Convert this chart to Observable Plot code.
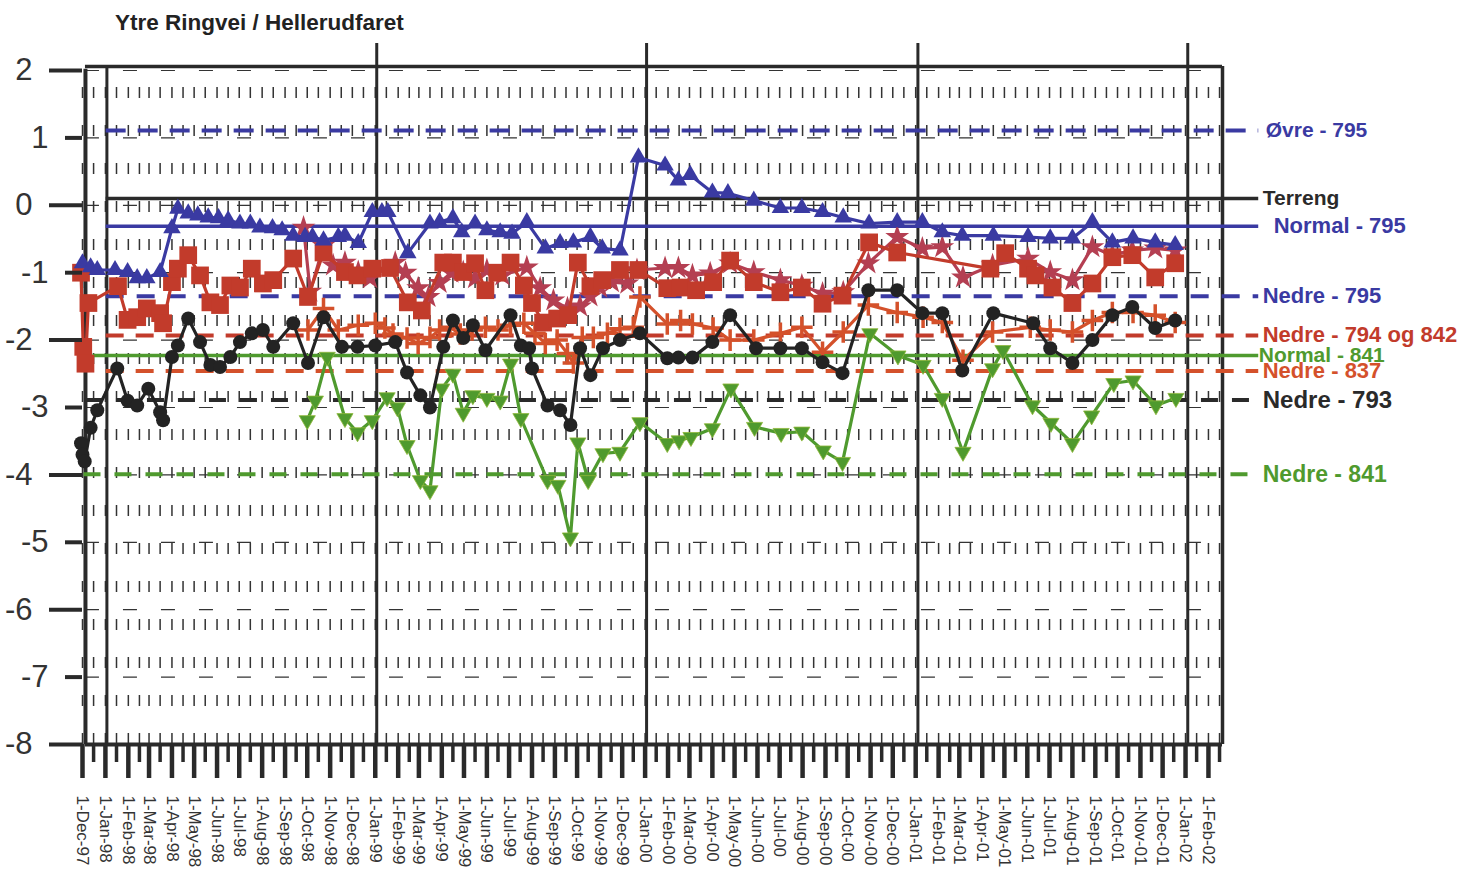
<!DOCTYPE html>
<html><head><meta charset="utf-8">
<script src="https://cdn.jsdelivr.net/npm/d3@7"></script>
<script src="https://cdn.jsdelivr.net/npm/@observablehq/plot@0.6"></script>
<style>
body{margin:0;background:#fff;}
#wrap{position:relative;width:1463px;height:869px;}
#title{position:absolute;left:115px;top:10px;font:bold 22.5px "Liberation Sans",Arial,sans-serif;color:#222;z-index:2;}
#chart{position:absolute;left:0;top:0;}
</style></head><body>
<div id="wrap"><div id="title">Ytre Ringvei / Hellerudfaret</div><div id="chart"></div></div>
<script>
// ---------- data ----------
const blueDates = ["1997-12-01","1997-12-12","1997-12-21","1998-01-14","1998-01-31","1998-02-13","1998-02-26","1998-03-16","1998-04-01","1998-04-09","1998-04-23","1998-05-06","1998-05-20","1998-06-03","1998-06-16","1998-07-02","1998-07-16","1998-07-29","1998-08-15","1998-08-28","1998-09-12","1998-09-28","1998-10-08","1998-10-23","1998-11-12","1998-11-21","1998-12-09","1998-12-28","1999-01-10","1999-01-18","1999-02-14","1999-03-16","1999-03-29","1999-04-16","1999-04-28","1999-05-16","1999-06-01","1999-06-19","1999-07-05","1999-07-25","1999-08-19","1999-09-08","1999-09-26","1999-10-19","1999-11-04","1999-11-28","1999-12-23","2000-01-28","2000-02-15","2000-03-02","2000-04-01","2000-04-22","2000-05-27","2000-07-02","2000-07-31","2000-08-28","2000-09-25","2000-10-30","2000-12-07","2001-01-10","2001-02-06","2001-03-05","2001-04-16","2001-06-02","2001-07-02","2001-08-01","2001-08-28","2001-09-24","2001-10-22","2001-11-21","2001-12-18"];
const blueValues = [-0.86,-0.92,-0.96,-0.96,-0.99,-1.08,-1.08,-0.99,-0.34,-0.05,-0.12,-0.15,-0.18,-0.19,-0.22,-0.27,-0.27,-0.33,-0.34,-0.37,-0.45,-0.47,-0.47,-0.52,-0.47,-0.45,-0.56,-0.1,-0.1,-0.1,-0.71,-0.27,-0.25,-0.19,-0.4,-0.27,-0.37,-0.4,-0.42,-0.25,-0.64,-0.56,-0.55,-0.47,-0.64,-0.67,0.71,0.59,0.37,0.45,0.19,0.18,0.07,-0.04,-0.04,-0.1,-0.18,-0.27,-0.25,-0.25,-0.4,-0.45,-0.45,-0.47,-0.49,-0.49,-0.25,-0.55,-0.49,-0.55,-0.59];

const squareDates = ["1997-11-29","1997-12-02","1997-12-05","1997-12-09","1998-01-18","1998-01-31","1998-02-13","1998-02-26","1998-03-16","1998-03-20","1998-04-01","1998-04-09","1998-04-23","1998-05-09","1998-05-23","1998-06-05","1998-06-19","1998-07-02","1998-07-18","1998-08-02","1998-08-16","1998-09-12","1998-10-02","1998-10-23","1998-11-21","1998-12-08","1998-12-28","1999-01-21","1999-02-14","1999-03-05","1999-04-03","1999-04-16","1999-04-30","1999-05-16","1999-05-30","1999-06-15","1999-07-03","1999-07-21","1999-08-01","1999-08-16","1999-09-04","1999-09-19","1999-10-02","1999-10-19","1999-11-04","1999-11-28","1999-12-23","2000-01-31","2000-02-18","2000-03-10","2000-04-02","2000-04-25","2000-05-27","2000-07-02","2000-07-31","2000-08-28","2000-09-24","2000-10-30","2000-12-07","2001-04-12","2001-05-02","2001-06-02","2001-06-12","2001-07-05","2001-08-01","2001-08-28","2001-09-24","2001-10-21","2001-11-21","2001-12-18"];
const squareValues = [-1.0,-2.1,-2.35,-1.45,-1.2,-1.7,-1.66,-1.53,-1.6,-1.75,-1.14,-0.94,-0.74,-1.04,-1.44,-1.48,-1.19,-1.22,-0.94,-1.16,-1.11,-0.79,-1.36,-0.7,-0.99,-1.04,-0.94,-0.93,-1.44,-1.56,-0.85,-0.85,-0.99,-0.86,-1.26,-1.0,-0.85,-1.19,-1.45,-1.74,-1.68,-1.63,-0.85,-1.2,-1.11,-0.96,-0.96,-1.23,-1.22,-1.26,-1.14,-0.82,-1.14,-1.29,-1.22,-1.46,-1.34,-0.55,-0.7,-0.94,-0.71,-0.94,-1.04,-1.22,-1.45,-1.16,-0.77,-0.74,-1.07,-0.86];

const starDates = ["1998-09-26","1998-10-05","1998-10-23","1998-11-05","1998-11-21","1998-12-09","1998-12-25","1999-01-28","1999-02-11","1999-02-28","1999-03-14","1999-03-29","1999-04-14","1999-04-30","1999-05-16","1999-06-01","1999-06-22","1999-07-25","1999-08-12","1999-08-30","1999-09-18","1999-10-05","1999-10-19","1999-11-01","1999-11-17","1999-12-08","1999-12-21","2000-01-28","2000-02-15","2000-03-05","2000-03-29","2000-04-25","2000-05-27","2000-07-02","2000-07-31","2000-08-28","2000-09-25","2000-10-29","2000-12-07","2001-01-10","2001-02-06","2001-03-06","2001-04-15","2001-06-02","2001-07-02","2001-08-01","2001-08-28","2001-09-24","2001-10-21","2001-11-21","2001-12-18"];
const starValues = [-0.33,-1.28,-0.6,-0.89,-0.85,-0.99,-1.08,-0.85,-1.0,-1.23,-1.36,-1.15,-1.0,-0.99,-1.08,-0.96,-1.04,-0.92,-1.23,-1.41,-1.53,-1.5,-1.35,-1.22,-1.14,-1.16,-0.96,-0.93,-0.93,-1.04,-1.01,-0.86,-0.99,-1.11,-1.19,-1.31,-1.29,-0.86,-0.47,-0.64,-0.62,-1.07,-0.89,-0.79,-0.99,-1.11,-0.62,-0.74,-0.67,-0.64,-0.67];

const plusDates = ["1998-10-02","1998-10-23","1998-11-12","1998-12-09","1999-01-01","1999-01-14","1999-01-25","1999-02-13","1999-02-28","1999-03-16","1999-03-29","1999-04-12","1999-04-26","1999-05-12","1999-05-30","1999-06-16","1999-07-03","1999-07-21","1999-08-05","1999-08-19","1999-09-04","1999-09-18","1999-09-26","1999-10-08","1999-10-23","1999-11-11","1999-11-28","1999-12-16","1999-12-25","2000-01-31","2000-02-18","2000-03-05","2000-04-02","2000-04-25","2000-05-27","2000-07-02","2000-07-31","2000-08-28","2000-09-25","2000-10-29","2000-12-07","2001-01-11","2001-02-06","2001-03-06","2001-04-15","2001-06-05","2001-07-02","2001-08-01","2001-08-28","2001-09-24","2001-10-22","2001-11-21","2001-12-18"];
const plusValues = [-1.85,-1.53,-1.85,-1.78,-1.75,-1.82,-1.91,-1.97,-2.05,-1.96,-1.85,-1.81,-1.91,-1.85,-1.81,-1.85,-1.78,-1.75,-1.9,-2.05,-2.0,-2.2,-2.34,-1.96,-1.96,-1.9,-1.83,-1.81,-1.36,-1.76,-1.71,-1.76,-1.82,-2.0,-2.0,-1.9,-1.81,-2.18,-1.88,-1.48,-1.59,-1.66,-1.74,-2.3,-1.88,-1.81,-1.85,-1.88,-1.71,-1.59,-1.59,-1.63,-1.74];

const blackDates = ["1997-11-29","1997-12-01","1997-12-04","1997-12-12","1997-12-21","1998-01-17","1998-01-31","1998-02-13","1998-02-28","1998-03-16","1998-03-20","1998-04-01","1998-04-09","1998-04-23","1998-05-09","1998-05-23","1998-06-05","1998-06-19","1998-07-02","1998-07-18","1998-08-02","1998-08-16","1998-09-12","1998-10-02","1998-10-23","1998-11-17","1998-12-08","1999-01-01","1999-01-28","1999-02-13","1999-03-03","1999-03-16","1999-04-03","1999-04-16","1999-04-30","1999-05-13","1999-05-30","1999-07-03","1999-07-17","1999-07-28","1999-08-01","1999-08-22","1999-09-08","1999-09-22","1999-10-05","1999-10-19","1999-11-05","1999-11-28","1999-12-25","2000-01-31","2000-02-15","2000-03-05","2000-04-01","2000-04-25","2000-05-30","2000-07-02","2000-07-31","2000-08-28","2000-09-24","2000-10-29","2000-12-07","2001-01-10","2001-02-06","2001-03-05","2001-04-16","2001-06-09","2001-07-02","2001-08-01","2001-08-28","2001-09-24","2001-10-21","2001-11-21","2001-12-18"];
const blackValues = [-3.53,-3.7,-3.8,-3.3,-3.04,-2.42,-2.9,-2.97,-2.72,-3.07,-3.19,-2.25,-2.08,-1.68,-2.03,-2.37,-2.4,-2.25,-2.03,-1.9,-1.85,-2.1,-1.75,-2.34,-1.66,-2.1,-2.1,-2.08,-2.03,-2.48,-2.82,-3.0,-2.1,-1.71,-1.97,-1.78,-2.15,-1.63,-2.08,-2.12,-2.42,-2.97,-3.04,-3.26,-2.12,-2.52,-2.12,-2.0,-1.9,-2.27,-2.26,-2.26,-2.03,-1.63,-2.12,-2.12,-2.12,-2.33,-2.49,-1.26,-1.26,-1.6,-1.6,-2.45,-1.6,-1.75,-2.12,-2.34,-2.0,-1.63,-1.51,-1.82,-1.71];

const greenDates = ["1998-10-01","1998-10-12","1998-10-28","1998-11-21","1998-12-08","1998-12-28","1999-01-17","1999-01-31","1999-02-13","1999-03-03","1999-03-16","1999-04-01","1999-04-16","1999-04-30","1999-05-13","1999-06-01","1999-06-19","1999-07-03","1999-07-17","1999-08-22","1999-09-05","1999-09-22","1999-10-02","1999-10-16","1999-11-05","1999-11-28","1999-12-25","2000-01-31","2000-02-16","2000-03-03","2000-04-01","2000-04-26","2000-05-28","2000-07-03","2000-07-31","2000-08-29","2000-09-24","2000-10-31","2000-12-08","2001-01-11","2001-02-06","2001-03-06","2001-04-15","2001-04-29","2001-06-08","2001-07-03","2001-08-01","2001-08-27","2001-09-26","2001-10-22","2001-11-22","2001-12-19"];
const greenValues = [-3.19,-2.9,-2.25,-3.16,-3.37,-3.19,-2.85,-3.0,-3.56,-4.08,-4.23,-2.72,-2.5,-3.08,-2.82,-2.86,-2.9,-2.35,-3.16,-4.08,-4.15,-4.93,-3.52,-4.08,-3.68,-3.66,-3.22,-3.53,-3.49,-3.44,-3.31,-2.72,-3.29,-3.38,-3.36,-3.64,-3.81,-1.9,-2.23,-2.37,-2.86,-3.66,-2.42,-2.15,-2.97,-3.23,-3.53,-3.12,-2.64,-2.6,-2.97,-2.86];

// reference levels
const refNames  = ["Øvre - 795","Terreng","Normal - 795","Nedre - 795","Nedre - 794 og 842","Normal - 841","Nedre - 837","Nedre - 793","Nedre - 841"];
const refValues = [1.11, 0.1, -0.31, -1.35, -1.93, -2.23, -2.46, -2.89, -3.99];
const refStarts = ["1998-01-02","1998-01-02","1998-01-02","1998-01-02","1998-01-02","1997-12-15","1998-01-02","1997-12-05","1997-12-03"];

// y ticks
const yTicksLong = [2, 0, -2, -4, -6, -8];
const yTicksShort = [1, -1, -3, -5, -7];
const yGrid = [2, 1, 0, -1, -2, -3, -4, -5, -6, -7];

// year separator lines
const yearLines = ["1998-01-03","1999-01-03","2000-01-03","2001-01-04","2002-01-04"];

// ---------- styles ----------
const C = {blue:"#3a3aa2", red:"#c23b2b", star:"#b43f52", plus:"#d4512b", black:"#232323", green:"#4f9a2e", ink:"#2a2a2a"};
const refStyle = [
  {color:C.blue, dash:"20,12", w:4, label:C.blue, dx:7, fs:21},
  {color:C.ink, dash:null, w:3.5, label:C.ink, dx:4, fs:21},
  {color:C.blue, dash:null, w:3.5, label:C.blue, dx:15, fs:22},
  {color:C.blue, dash:"18,13", w:4, label:C.blue, dx:4, fs:22},
  {color:C.red, dash:"18,12", w:4, label:C.red, dx:4, fs:22},
  {color:C.green, dash:null, w:3.5, label:C.green, dx:0, fs:21},
  {color:C.plus, dash:"18,12", w:4, label:C.plus, dx:4, fs:22},
  {color:C.ink, dash:"17,14", w:4, label:C.ink, dx:4, fs:24},
  {color:C.green, dash:"17,14", w:4, label:C.green, dx:4, fs:23}
];

const parse = s => new Date(s);
const rows = (ds, vs) => ds.map((d, i) => ({date: parse(d), v: vs[i]}));
const blue = rows(blueDates, blueValues);
const squares = rows(squareDates, squareValues);
const stars = rows(starDates, starValues);
const plus = rows(plusDates, plusValues);
const black = rows(blackDates, blackValues);
const green = rows(greenDates, greenValues);
const refs = refNames.map((n, i) => ({name:n, v:refValues[i], start:parse(refStarts[i])}));

const domainStart = parse("1997-12-01");
const domainEnd = parse("2002-02-20");
const leftEdge = parse("1997-12-05");
const lineEnd = parse("2002-04-10");
const months = d3.utcMonth.range(domainStart, parse("2002-02-02"));
const midMonths = months.map(d => d3.utcDay.offset(d, 15)).filter(d => d < domainEnd);
const gridX = months.concat(midMonths);
const fmt = d3.utcFormat("%-d-%b-%y");

const marks = [
  // grids
  Plot.ruleY(yGrid, {x1: leftEdge, x2: domainEnd, stroke:"#333", strokeWidth:1.2, strokeDasharray:"14,24"}),
  Plot.ruleX(gridX, {y1: 2, y2: -8, stroke:"#333", strokeWidth:1.5, strokeDasharray:"11,27", strokeDashoffset:21}),
  // frame & year lines
  Plot.ruleX(yearLines.slice(1).map(parse), {y1: 2.4, y2: -8, stroke:C.ink, strokeWidth:3}),
  Plot.ruleX([parse(yearLines[0])], {y1: 2.06, y2: -8, stroke:C.ink, strokeWidth:3}),
  Plot.ruleY([2.06], {x1: leftEdge, x2: domainEnd, stroke:C.ink, strokeWidth:3.5}),
  Plot.ruleX([domainEnd], {y1: 2.06, y2: -8, stroke:C.ink, strokeWidth:3.5}),
  Plot.ruleX([leftEdge], {y1: 2.02, y2: -8, stroke:C.ink, strokeWidth:4}),
  Plot.ruleY([-8], {x1: leftEdge, x2: domainEnd, stroke:C.ink, strokeWidth:4}),
  // reference lines
  ...refs.map((r, i) => Plot.ruleY([r], {y:"v", x1:"start", x2: () => lineEnd, stroke: refStyle[i].color, strokeWidth: refStyle[i].w, strokeDasharray: refStyle[i].dash ?? undefined})),
  // series
  Plot.line(green, {x:"date", y:"v", stroke:C.green, strokeWidth:3.2}),
  Plot.dot(green, {x:"date", y:"v", symbol:"triangle", rotate:180, r:6, fill:C.green, stroke:"#8fb83a", strokeWidth:0.8}),
  Plot.line(plus, {x:"date", y:"v", stroke:C.plus, strokeWidth:3.2}),
  Plot.dot(plus, {x:"date", y:"v", symbol:"plus", r:7, stroke:C.plus, strokeWidth:3.5}),
  Plot.line(black, {x:"date", y:"v", stroke:C.black, strokeWidth:3.2}),
  Plot.dot(black, {x:"date", y:"v", symbol:"circle", r:7, fill:C.black}),
  Plot.line(stars, {x:"date", y:"v", stroke:C.star, strokeWidth:3.2}),
  Plot.dot(stars, {x:"date", y:"v", symbol:"star", r:7.5, fill:C.star}),
  Plot.line(squares, {x:"date", y:"v", stroke:C.red, strokeWidth:3.2}),
  Plot.dot(squares, {x:"date", y:"v", symbol:"square", r:10, fill:C.red}),
  Plot.line(blue, {x:"date", y:"v", stroke:C.blue, strokeWidth:3.2}),
  Plot.dot(blue, {x:"date", y:"v", symbol:"triangle", r:6.5, fill:C.blue}),
  // reference labels
  ...refs.map((r, i) => Plot.text([r], {x: () => lineEnd, y:"v", text:"name", dx: refStyle[i].dx, textAnchor:"start", fill: refStyle[i].label, fontSize: refStyle[i].fs, fontWeight:"bold"})),
  // axes
  Plot.axisY(yTicksLong, {tickSize:33, tickPadding:17, fontSize:31, strokeWidth:4, stroke:C.ink, fill:"#333", tickFormat: d => String(d), label:null}),
  Plot.axisY(yTicksShort, {tickSize:17, tickPadding:17, fontSize:31, strokeWidth:4, stroke:C.ink, fill:"#333", tickFormat: d => String(d), label:null}),
  Plot.axisX(months, {tickSize:34, tickPadding:17, tickRotate:90, fontSize:17, strokeWidth:4.5, stroke:C.ink, fill:"#333", tickFormat: fmt, label:null}),
  Plot.axisX(midMonths, {tickSize:18, strokeWidth:3.5, stroke:C.ink, tickFormat: () => "", label:null})
];

const chart = Plot.plot({
  width: 1463, height: 869,
  marginTop: 70, marginBottom: 125, marginLeft: 82, marginRight: 241,
  x: {type:"utc", domain:[domainStart, domainEnd]},
  y: {domain:[-8, 2]},
  style: {background:"white", fontFamily:"'Liberation Sans', Arial, sans-serif", color:"#333", overflow:"visible"},
  marks
});
document.getElementById("chart").appendChild(chart);
</script>
</body></html>
